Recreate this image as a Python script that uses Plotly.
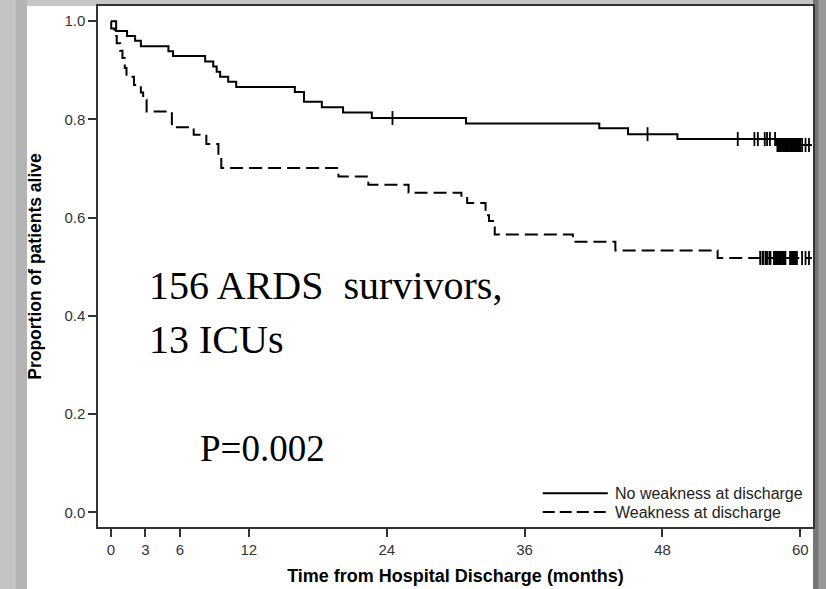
"""Kaplan-Meier survival after hospital discharge, by weakness at discharge."""

import numpy as np
import plotly.graph_objects as go

# step times (months) and survival after each step
no_weak_times = [0.45, 1.4, 2.1, 2.6, 5.0, 5.4, 8.2, 8.9, 9.2, 9.5, 10.2, 10.9,
                 16.0, 16.8, 18.35, 20.2, 22.7, 30.9, 42.5, 45.0, 49.3, 57.9]
no_weak_surv = [0.980, 0.970, 0.960, 0.949, 0.939, 0.929, 0.918, 0.908, 0.897, 0.887, 0.877, 0.866,
                0.856, 0.836, 0.825, 0.814, 0.803, 0.792, 0.782, 0.770, 0.760, 0.748]
no_weak_censor = [24.5, 46.7, 54.55, 56.0, 56.3, 56.9, 57.1, 57.35, 57.8,
                  58.0, 58.1, 58.2, 58.3, 58.4, 58.5, 58.6, 58.7, 58.8, 58.9, 59.0,
                  59.1, 59.2, 59.3, 59.4, 59.5, 59.6, 59.7, 59.8, 59.9, 60.0,
                  60.15, 60.45, 60.75]

weak_times = [0.02, 0.3, 0.5, 0.8, 1.0, 1.2, 1.35, 2.0, 2.6, 2.8, 3.1, 5.3, 7.2, 8.3, 9.35, 9.6,
              19.8, 22.4, 25.9, 30.5, 31.0, 32.6, 32.9, 33.4, 40.2, 43.9, 52.8]
weak_surv = [0.985, 0.970, 0.955, 0.940, 0.925, 0.905, 0.887, 0.870, 0.855, 0.840, 0.816, 0.784,
             0.769, 0.750, 0.728, 0.701, 0.684, 0.667, 0.651, 0.640, 0.630, 0.605, 0.593, 0.566,
             0.551, 0.533, 0.518]
weak_censor = [56.5, 56.7, 56.8, 57.0, 57.1, 57.3, 57.4, 57.7, 57.8, 57.9, 58.0, 58.1, 58.2,
               58.3, 58.4, 58.5, 58.6, 58.7, 59.1, 59.2, 59.3, 59.4, 59.5, 59.6, 59.7,
               60.15, 60.45, 60.75]

end_time = 61.0
x_ticks = [0, 3, 6, 12, 24, 36, 48, 60]
y_ticks = [0.0, 0.2, 0.4, 0.6, 0.8, 1.0]

AX_FONT = "Liberation Sans, Arial, sans-serif"
SERIF = "Liberation Serif, Times New Roman, serif"
DASH = "13px,6px"


def step_xy(times, surv):
    x = [0.0] + list(times) + [end_time]
    y = [1.0] + list(surv) + [surv[-1]]
    return x, y


def surv_at(times, surv, t):
    idx = np.searchsorted(np.asarray(times), np.asarray(t), side="right")
    vals = np.concatenate([[1.0], surv])
    return vals[idx]


fig = go.Figure()

for times, surv, censor, dash in [
    (no_weak_times, no_weak_surv, no_weak_censor, "solid"),
    (weak_times, weak_surv, weak_censor, DASH),
]:
    x, y = step_xy(times, surv)
    fig.add_trace(go.Scatter(
        x=x, y=y, mode="lines",
        line={"shape": "hv", "width": 2, "color": "black", "dash": dash},
        showlegend=False, hoverinfo="skip",
    ))
    fig.add_trace(go.Scatter(
        x=censor, y=surv_at(times, surv, censor), mode="markers",
        marker={"symbol": "line-ns", "size": 10, "line": {"width": 1.8, "color": "black"}},
        showlegend=False, hoverinfo="skip",
    ))

# frame: gray background with white panel
shapes = [
    dict(type="rect", xref="paper", yref="paper", x0=-0.0993, x1=1.0, y0=-0.2, y1=1.0,
         fillcolor="white", line_width=0, layer="below"),
    dict(type="rect", xref="paper", yref="paper", x0=-0.137, x1=-0.115, y0=-0.2, y1=1.1,
         fillcolor="#c4c4c4", line_width=0, layer="below"),
    dict(type="rect", xref="paper", yref="paper", x0=-0.115, x1=-0.0993, y0=-0.2, y1=1.1,
         fillcolor="#b4b4b4", line_width=0, layer="below"),
    dict(type="rect", xref="paper", yref="paper", x0=1.0, x1=1.008, y0=-0.2, y1=1.1,
         fillcolor="#767676", line_width=0, layer="below"),
    dict(type="rect", xref="paper", yref="paper", x0=1.008, x1=1.02, y0=-0.2, y1=1.1,
         fillcolor="#979797", line_width=0, layer="below"),
    # legend samples
    dict(type="line", xref="paper", yref="paper", x0=0.622, x1=0.713, y0=0.065, y1=0.065,
         line={"color": "black", "width": 2}),
    dict(type="line", xref="paper", yref="paper", x0=0.622, x1=0.713, y0=0.0287, y1=0.0287,
         line={"color": "black", "width": 2, "dash": "12px,5px"}),
]

annotations = [
    dict(text="156 ARDS\u00a0\u00a0survivors,", x=0.0685, y=0.463, xanchor="left", yanchor="middle",
         font={"family": SERIF, "size": 40, "color": "black"}),
    dict(text="13 ICUs", x=0.0685, y=0.359, xanchor="left", yanchor="middle",
         font={"family": SERIF, "size": 40, "color": "black"}),
    dict(text="P=0.002", x=0.140, y=0.151, xanchor="left", yanchor="middle",
         font={"family": SERIF, "size": 37, "color": "black"}),
    dict(text="No weakness at discharge", x=0.720, y=0.065, xanchor="left", yanchor="middle",
         font={"family": AX_FONT, "size": 16, "color": "#222"}),
    dict(text="Weakness at discharge", x=0.720, y=0.0287, xanchor="left", yanchor="middle",
         font={"family": AX_FONT, "size": 16, "color": "#222"}),
]
for a in annotations:
    a.update(xref="paper", yref="paper", showarrow=False)

fig.update_layout(
    width=826, height=589,
    margin={"l": 98, "r": 13, "t": 4, "b": 62},
    paper_bgcolor="#c6c6c6", plot_bgcolor="white",
    font={"family": AX_FONT, "color": "#333", "size": 15},
    shapes=shapes, annotations=annotations,
    showlegend=False,
)
fig.update_xaxes(
    range=[-1.13, 61.1], tickvals=x_ticks, ticks="outside", ticklen=8, tickwidth=1.5,
    tickcolor="#333", showline=True, linecolor="#333", linewidth=1.5, mirror=True,
    showgrid=False, zeroline=False, tickfont={"size": 15},
    title={"text": "<b>Time from Hospital Discharge (months)</b>", "font": {"size": 18, "color": "black"},
           "standoff": 13},
)
fig.update_yaxes(
    range=[-0.0298, 1.031], tickvals=y_ticks, tickformat=".1f", ticks="outside", ticklen=8,
    tickwidth=1.5, tickcolor="#333", showline=True, linecolor="#333", linewidth=1.5, mirror=True,
    showgrid=False, zeroline=False, tickfont={"size": 15},
    title={"text": "<b>Proportion of patients alive</b>", "font": {"size": 17.5, "color": "black"},
           "standoff": 18},
)

# drop the default page margin so the figure sits at the window origin
fig.write_html("out.html", config={"displayModeBar": False},
               post_script="document.body.style.margin='0';")
